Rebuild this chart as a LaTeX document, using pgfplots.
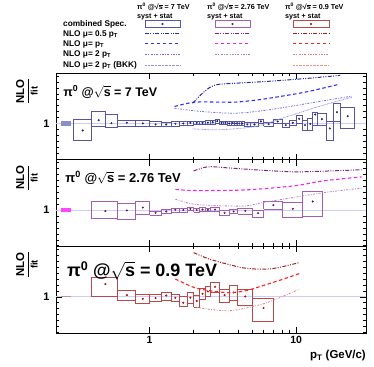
\documentclass[border=0pt]{standalone}
\usepackage{amsmath}
\usepackage{fontspec}
\setmainfont{Liberation Sans}
\usepackage{pgfplots}
\usepackage{pgfplotstable}
\pgfplotsset{compat=1.18}

\definecolor{boxA}{RGB}{85,85,160}
\definecolor{dotA}{RGB}{30,30,110}
\definecolor{muhA}{RGB}{40,40,170}
\definecolor{muoA}{RGB}{45,45,255}
\definecolor{mutA}{RGB}{110,110,225}
\definecolor{bkkA}{RGB}{145,145,240}
\definecolor{normA}{RGB}{140,140,200}
\definecolor{boxB}{RGB}{160,95,175}
\definecolor{dotB}{RGB}{95,20,95}
\definecolor{muhB}{RGB}{128,32,128}
\definecolor{muoB}{RGB}{240,32,240}
\definecolor{mutB}{RGB}{180,125,195}
\definecolor{normB}{RGB}{255,70,255}
\definecolor{boxC}{RGB}{185,72,72}
\definecolor{dotC}{RGB}{160,16,16}
\definecolor{muhC}{RGB}{165,30,30}
\definecolor{muoC}{RGB}{255,32,32}
\definecolor{mutC}{RGB}{225,125,125}
\definecolor{bkkC}{RGB}{240,145,145}
\definecolor{normC}{RGB}{205,140,140}
\definecolor{lineone}{RGB}{205,205,248}

\tikzset{
  smuh/.style={line width=1pt, dash pattern=on 4pt off 1.4pt on 1pt off 1.4pt on 1pt off 1.4pt},
  smuo/.style={line width=1.1pt, dash pattern=on 3.5pt off 2.5pt},
  smut/.style={line width=0.8pt, dash pattern=on 2pt off 1.4pt on 0.8pt off 1.4pt},
  sbkk/.style={line width=0.8pt, dash pattern=on 0.7pt off 0.7pt},
}

\pgfplotstableread{
xlo xhi x y ylo yhi
0.3 0.4 0.35 0.882 0.714 1.067
0.4 0.5 0.45 1.055 0.945 1.197
0.5 0.6 0.55 1.005 0.938 1.151
0.6 0.8 0.7 1.012 0.955 1.055
0.8 1.0 0.9 1.000 0.955 1.045
1.0 1.2 1.1 0.983 0.945 1.034
1.2 1.4 1.3 0.983 0.945 1.025
1.4 1.6 1.5 0.995 0.955 1.039
1.6 1.8 1.7 1.000 0.965 1.035
1.8 2.0 1.9 1.010 0.975 1.040
2.0 2.2 2.1 1.010 0.980 1.040
2.2 2.4 2.3 1.010 0.980 1.040
2.4 2.6 2.5 1.015 0.985 1.045
2.6 2.8 2.7 1.020 0.990 1.050
2.8 3.0 2.9 1.040 1.010 1.070
3.0 3.2 3.1 1.010 0.980 1.040
3.2 3.4 3.3 1.010 0.980 1.040
3.4 3.6 3.5 1.000 0.970 1.030
3.6 3.8 3.7 1.005 0.975 1.035
3.8 4.0 3.9 1.000 0.970 1.030
4.0 4.2 4.1 1.000 0.970 1.030
4.2 4.4 4.3 1.000 0.970 1.030
4.4 4.9 4.65 0.983 0.955 1.012
4.9 5.5 5.2 0.983 0.955 1.012
5.5 6.0 5.75 1.034 1.000 1.067
6.0 7.0 6.5 0.989 0.950 1.022
7.0 8.0 7.5 1.034 0.995 1.078
8.0 9.0 8.5 0.972 0.927 1.011
9.0 10.0 9.5 1.011 0.961 1.056
10.0 11.0 10.5 1.078 1.011 1.140
11.0 12.0 11.5 0.972 0.882 1.056
12.0 13.0 12.5 0.994 0.882 1.095
13.0 14.0 13.5 1.151 0.961 1.190
14.0 16.0 15.0 1.073 0.966 1.168
16.0 18.0 17.0 0.916 0.720 1.039
18.0 20.0 19.0 1.190 1.039 1.336
20.0 25.0 22.5 1.123 0.916 1.280
}\dataA

\pgfplotstableread{
xlo xhi x y ylo yhi
0.4 0.6 0.5 0.983 0.865 1.145
0.6 0.8 0.7 0.994 0.837 1.117
0.8 1.0 0.9 1.044 0.932 1.145
1.0 1.2 1.1 0.955 0.910 0.988
1.2 1.4 1.3 0.977 0.943 1.016
1.4 1.6 1.5 1.005 0.966 1.038
1.6 1.8 1.7 1.000 0.970 1.030
1.8 2.0 1.9 1.020 0.990 1.050
2.0 2.2 2.1 1.000 0.970 1.030
2.2 2.4 2.3 1.010 0.980 1.040
2.4 2.6 2.5 1.005 0.975 1.035
2.6 3.0 2.8 1.010 0.980 1.040
3.0 3.5 3.25 0.955 0.920 0.990
3.5 4.0 3.75 0.977 0.945 1.012
4.0 5.0 4.5 0.988 0.932 1.033
5.0 6.0 5.5 0.949 0.882 1.000
6.0 8.0 7.0 1.084 1.016 1.145
8.0 11.0 9.5 1.022 0.876 1.140
11.0 15.0 13.0 1.145 0.890 1.320
}\dataB

\pgfplotstableread{
xlo xhi x y ylo yhi
0.4 0.6 0.5 1.213 1.000 1.336
0.6 0.8 0.7 1.028 0.933 1.112
0.8 1.0 0.9 0.966 0.888 1.045
1.0 1.2 1.1 0.978 0.916 1.045
1.2 1.4 1.3 1.022 0.944 1.073
1.4 1.6 1.5 0.983 0.916 1.034
1.6 1.8 1.7 0.900 0.832 1.000
1.8 2.0 1.9 0.985 0.888 1.084
2.0 2.2 2.1 0.930 0.830 1.017
2.2 2.4 2.3 1.050 0.950 1.140
2.4 2.6 2.5 1.090 1.000 1.170
2.6 3.0 2.8 1.168 1.072 1.240
3.0 3.5 3.25 1.028 0.904 1.129
3.5 4.0 3.75 1.073 0.933 1.200
4.0 5.0 4.5 1.006 0.849 1.129
5.0 7.0 6.0 0.810 0.585 0.978
}\dataC

\newcommand{\drawboxes}[2]{%
  \pgfplotstablegetrowsof{#1}%
  \pgfmathtruncatemacro\nrowsm{\pgfplotsretval-1}%
  \pgfplotsforeachungrouped \i in {0,...,\nrowsm}{%
    \pgfplotstablegetelem{\i}{xlo}\of{#1}\let\bxlo\pgfplotsretval
    \pgfplotstablegetelem{\i}{xhi}\of{#1}\let\bxhi\pgfplotsretval
    \pgfplotstablegetelem{\i}{ylo}\of{#1}\let\bylo\pgfplotsretval
    \pgfplotstablegetelem{\i}{yhi}\of{#1}\let\byhi\pgfplotsretval
    \edef\tmpcmd{\noexpand\addplot[draw=#2, line width=0.6pt, forget plot, mark=none]
      coordinates {(\bxlo,\bylo) (\bxhi,\bylo) (\bxhi,\byhi) (\bxlo,\byhi) (\bxlo,\bylo)};}%
    \tmpcmd
  }%
}

\newcommand{\ttl}[1]{π\textsuperscript{0} @$\sqrt{\text{\bfseries s}}$ = #1 TeV}
\newcommand{\ttlsmall}[1]{π\textsuperscript{0} @√\kern-0.02em$\overline{\text{\bfseries s}}$ = #1 TeV}
\newcommand{\ylab}{$\dfrac{\text{\bfseries\fontsize{11.5}{12}\selectfont NLO}}{\text{\bfseries\fontsize{9.5}{10}\selectfont fit}}$}

\begin{document}
\begin{tikzpicture}
\useasboundingbox (0,0) rectangle (374bp,367bp);

% legend area
\begin{axis}[at={(0bp,294bp)}, anchor=south west, width=374bp, height=73bp,
  scale only axis, hide axis, xmin=0, xmax=374, ymin=0, ymax=73, y dir=reverse, clip=false]
\node[font=\fontsize{7.2}{8}\selectfont\bfseries, inner sep=0pt, anchor=base west] at (axis cs:137,9.8) {\ttlsmall{7}};
\node[font=\fontsize{7.2}{8}\selectfont\bfseries, inner sep=0pt, anchor=base west] at (axis cs:137,18.3) {syst + stat};
\node[font=\fontsize{7.2}{8}\selectfont\bfseries, inner sep=0pt, anchor=base west] at (axis cs:207,9.8) {\ttlsmall{2.76}};
\node[font=\fontsize{7.2}{8}\selectfont\bfseries, inner sep=0pt, anchor=base west] at (axis cs:207,18.3) {syst + stat};
\node[font=\fontsize{7.2}{8}\selectfont\bfseries, inner sep=0pt, anchor=base west] at (axis cs:285,9.8) {\ttlsmall{0.9}};
\node[font=\fontsize{7.2}{8}\selectfont\bfseries, inner sep=0pt, anchor=base west] at (axis cs:285,18.3) {syst + stat};
\node[font=\fontsize{8.3}{9}\selectfont\bfseries, inner sep=0pt, anchor=west] at (axis cs:63,24) {combined Spec.};
\node[font=\fontsize{8.3}{9}\selectfont\bfseries, inner sep=0pt, anchor=west] at (axis cs:63,34) {NLO μ= 0.5 p\textsubscript{T}};
\node[font=\fontsize{8.3}{9}\selectfont\bfseries, inner sep=0pt, anchor=west] at (axis cs:63,44) {NLO μ= p\textsubscript{T}};
\node[font=\fontsize{8.3}{9}\selectfont\bfseries, inner sep=0pt, anchor=west] at (axis cs:63,54) {NLO μ= 2 p\textsubscript{T}};
\node[font=\fontsize{8.3}{9}\selectfont\bfseries, inner sep=0pt, anchor=west] at (axis cs:63,65) {NLO μ= 2 p\textsubscript{T} (BKK)};
\addplot[draw=boxA, line width=0.7pt] coordinates {(145,20.7) (180,20.7) (180,27.3) (145,27.3) (145,20.7)};
\addplot[only marks, mark=*, mark size=0.9bp, dotA] coordinates {(162.5,24)};
\addplot[muhA, smuh] coordinates {(145,34) (180,34)};
\addplot[muoA, smuo] coordinates {(145,43.7) (180,43.7)};
\addplot[mutA, smut] coordinates {(145,54) (180,54)};
\addplot[bkkA, sbkk] coordinates {(145,65) (180,65)};
\addplot[draw=boxB, line width=0.7pt] coordinates {(215,20.7) (250,20.7) (250,27.3) (215,27.3) (215,20.7)};
\addplot[only marks, mark=*, mark size=0.9bp, dotB] coordinates {(232.5,24)};
\addplot[muhB, smuh] coordinates {(215,34) (250,34)};
\addplot[muoB, smuo] coordinates {(215,43.7) (250,43.7)};
\addplot[mutB, smut] coordinates {(215,54) (250,54)};
\addplot[draw=boxC, line width=0.7pt] coordinates {(293,20.7) (329,20.7) (329,27.3) (293,27.3) (293,20.7)};
\addplot[only marks, mark=*, mark size=0.9bp, dotC] coordinates {(311,24)};
\addplot[muhC, smuh] coordinates {(293,34) (329,34)};
\addplot[muoC, smuo] coordinates {(293,43.7) (329,43.7)};
\addplot[mutC, smut] coordinates {(293,54) (329,54)};
\addplot[bkkC, sbkk] coordinates {(293,65) (329,65)};
\end{axis}

% panel 1: 7 TeV
\begin{axis}[at={(56bp,207.33bp)}, anchor=south west,
  xmode=log, width=310bp, height=86.67bp, scale only axis,
  xmin=0.23, xmax=30, ymin=0.39, ymax=1.85,
  ytick={1}, yticklabels={\bfseries 1},
  minor ytick={0.4,0.5,0.6,0.7,0.8,0.9,1.1,1.2,1.3,1.4,1.5,1.6,1.7,1.8},
  xtick={1,10}, xticklabels={,},
  tick align=inside, major tick length=6bp, minor tick length=3bp,
  axis line style={line width=0.6pt}, tick style={line width=0.5pt, black},
  yticklabel style={font=\fontsize{11}{12}\selectfont\bfseries, xshift=-3bp},
  clip mode=individual]
\addplot[lineone, line width=0.8pt, forget plot] coordinates {(0.23,1) (30,1)};
\addplot[fill=normA, draw=none, forget plot] coordinates {(0.25,0.965) (0.29,0.965) (0.29,1.035) (0.25,1.035)};
\drawboxes{\dataA}{boxA}
\addplot[only marks, mark=*, mark size=0.8bp, dotA] table[x=x, y=y] {\dataA};
\addplot[muhA, smuh, smooth] coordinates {(1.97,1.34) (2.3,1.51) (2.63,1.62) (3.0,1.66) (4,1.68) (6.5,1.71) (12,1.76) (20,1.81)};
\addplot[muoA, smuo, smooth] coordinates {(1.48,1.286) (2.02,1.358) (3,1.36) (3.9,1.36) (5.6,1.40) (8.5,1.47) (12.2,1.54) (19.7,1.66)};
\addplot[mutA, smut, smooth] coordinates {(1.48,1.257) (2.3,1.20) (3.9,1.173) (6.55,1.23) (12.2,1.34) (24,1.46)};
\addplot[bkkA, sbkk, smooth] coordinates {(1.97,0.91) (3.0,0.894) (5.3,0.95) (8.1,1.09) (14.3,1.286) (24,1.44)};
\node[anchor=west, font=\fontsize{12.5}{14}\selectfont\bfseries, inner sep=0pt] at (rel axis cs:0.023,0.78) {\ttl{7}};
\node[rotate=90, inner sep=0pt] at (rel axis cs:-0.094,0.79) {\ylab};
\end{axis}

% panel 2: 2.76 TeV
\begin{axis}[at={(56bp,120.67bp)}, anchor=south west,
  xmode=log, width=310bp, height=86.67bp, scale only axis,
  xmin=0.23, xmax=30, ymin=0.39, ymax=1.85,
  ytick={1}, yticklabels={\bfseries 1},
  minor ytick={0.4,0.5,0.6,0.7,0.8,0.9,1.1,1.2,1.3,1.4,1.5,1.6,1.7,1.8},
  xtick={1,10}, xticklabels={,},
  tick align=inside, major tick length=6bp, minor tick length=3bp,
  axis line style={line width=0.6pt}, tick style={line width=0.5pt, black},
  yticklabel style={font=\fontsize{11}{12}\selectfont\bfseries, xshift=-3bp},
  clip mode=individual]
\addplot[lineone, line width=0.8pt, forget plot] coordinates {(0.23,1) (30,1)};
\addplot[fill=normB, draw=none, forget plot] coordinates {(0.25,0.96) (0.29,0.96) (0.29,1.04) (0.25,1.04)};
\drawboxes{\dataB}{boxB}
\addplot[only marks, mark=*, mark size=0.8bp, dotB] table[x=x, y=y] {\dataB};
\addplot[muhB, smuh, smooth] coordinates {(2.0,1.66) (2.5,1.73) (3.5,1.71) (6,1.67) (10,1.645) (17,1.66) (28,1.68)};
\addplot[muoB, smuo, smooth] coordinates {(1.5,1.35) (2,1.33) (4.5,1.34) (9.8,1.41) (15,1.49) (28,1.56)};
\addplot[mutB, smut, smooth] coordinates {(1.5,1.185) (2.0,1.10) (3,1.075) (4.5,1.07) (6,1.13) (10,1.22) (16,1.3) (28,1.37)};
\node[anchor=west, font=\fontsize{13}{15}\selectfont\bfseries, inner sep=0pt] at (rel axis cs:0.03,0.79) {\ttl{2.76}};
\node[rotate=90, inner sep=0pt] at (rel axis cs:-0.094,0.79) {\ylab};
\end{axis}

% panel 3: 0.9 TeV
\begin{axis}[at={(56bp,34bp)}, anchor=south west,
  xmode=log, width=310bp, height=86.67bp, scale only axis,
  xmin=0.23, xmax=30, ymin=0.39, ymax=1.85,
  ytick={1}, yticklabels={\bfseries 1},
  minor ytick={0.4,0.5,0.6,0.7,0.8,0.9,1.1,1.2,1.3,1.4,1.5,1.6,1.7,1.8},
  xtick={1,10}, xticklabels={\bfseries 1,\bfseries 10},
  tick align=inside, major tick length=6bp, minor tick length=3bp,
  axis line style={line width=0.6pt}, tick style={line width=0.5pt, black},
  yticklabel style={font=\fontsize{11}{12}\selectfont\bfseries, xshift=-3bp},
  xticklabel style={font=\fontsize{10.5}{12}\selectfont\bfseries},
  clip mode=individual]
\addplot[lineone, line width=0.8pt, forget plot] coordinates {(0.23,1) (30,1)};
\addplot[fill=normC, draw=none, forget plot] coordinates {(0.25,0.99) (0.29,0.99) (0.29,1.01) (0.25,1.01)};
\drawboxes{\dataC}{boxC}
\addplot[only marks, mark=*, mark size=0.8bp, dotC] table[x=x, y=y] {\dataC};
\addplot[muhC, smuh, smooth] coordinates {(2.0,1.745) (2.6,1.63) (4.3,1.49) (6,1.465) (7.5,1.49) (10.5,1.576)};
\addplot[muoC, smuo, smooth] coordinates {(1.5,1.30) (2.0,1.16) (2.6,1.10) (3.5,1.07) (4.5,1.10) (5.9,1.185) (8,1.29) (10.5,1.39)};
\addplot[mutC, smut, smooth] coordinates {(2.1,0.82) (3.5,0.765) (5.9,0.877) (8,1.0) (10.5,1.13)};
\node[anchor=west, font=\fontsize{18}{20}\selectfont\bfseries, inner sep=0pt] at (rel axis cs:0.035,0.72) {\ttl{0.9}};
\node[rotate=90, inner sep=0pt] at (rel axis cs:-0.094,0.79) {\ylab};
\node[anchor=north east, font=\fontsize{11.5}{13}\selectfont\bfseries, inner sep=0pt] at (rel axis cs:1,-0.2) {p\textsubscript{T} (GeV/c)};
\end{axis}
\end{tikzpicture}
\end{document}
